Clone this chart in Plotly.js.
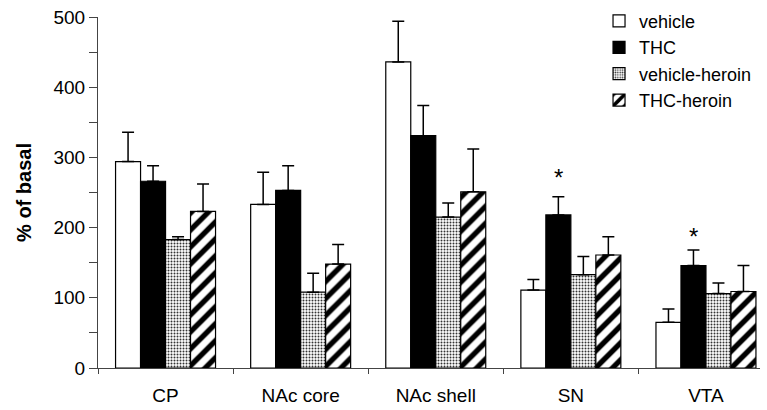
<!DOCTYPE html>
<html>
<head>
<meta charset="utf-8">
<script src="https://cdn.plot.ly/plotly-3.0.1.min.js"></script>
<style>
  html, body { margin: 0; padding: 0; background: #fff; overflow: hidden; }
  #chart { width: 767px; height: 410px; }
</style>
</head>
<body>
<div id="chart"></div>
<script>
// ---- data ----
const regions = ['CP', 'NAc core', 'NAc shell', 'SN', 'VTA'];
const seriesNames = ['vehicle', 'THC', 'vehicle-heroin', 'THC-heroin'];

const vehicle       = [294, 233, 436, 111, 65];
const vehicleErr    = [42, 46, 58, 15, 19];
const thc           = [266, 253, 331, 218, 146];
const thcErr        = [22, 35, 43, 26, 22];
const vehHeroin     = [183, 108, 215, 133, 106];
const vehHeroinErr  = [4, 27, 20, 26, 15];
const thcHeroin     = [223, 148, 251, 161, 109];
const thcHeroinErr  = [39, 28, 61, 26, 37];
const noErrDown     = [0, 0, 0, 0, 0];

// significance markers (above THC bars)
const sigRegions = ['SN', 'VTA'];
const sigY       = [279, 194];

const yTicks = [0, 100, 200, 300, 400, 500];

// ---- styling ----
const FONT = 'Liberation Sans, Arial, Helvetica, sans-serif';
const BARGAP = 0.26;
const nSeries = seriesNames.length;
const AXIS = '#444';

function errBar(arr) {
  return {type: 'data', symmetric: false, array: arr, arrayminus: noErrDown,
          color: '#000', thickness: 1.5, width: 6, visible: true};
}
const outline = {color: '#000', width: 1.2};

const traces = [
  {type: 'bar', name: seriesNames[0], x: regions, y: vehicle, error_y: errBar(vehicleErr),
   marker: {color: '#fff', line: outline}},
  {type: 'bar', name: seriesNames[1], x: regions, y: thc, error_y: errBar(thcErr),
   marker: {color: '#000', line: outline}},
  {type: 'bar', name: seriesNames[2], x: regions, y: vehHeroin, error_y: errBar(vehHeroinErr),
   marker: {color: '#fff', line: outline,
            pattern: {shape: '.', fgcolor: '#333', bgcolor: '#fff', size: 3, solidity: 0.35}}},
  {type: 'bar', name: seriesNames[3], x: regions, y: thcHeroin, error_y: errBar(thcHeroinErr),
   marker: {color: '#fff', line: outline,
            pattern: {shape: '/', fgcolor: '#000', bgcolor: '#fff', size: 12, solidity: 0.45}}}
];

// THC bar offset inside each group (2nd of 4 bars)
const barW = (1 - BARGAP) / nSeries;
const thcOffset = (1 - (nSeries - 1) / 2) * barW;
const annotations = sigRegions.map((r, i) => ({
  x: regions.indexOf(r) + thcOffset, y: sigY[i], xref: 'x', yref: 'y',
  text: '*', showarrow: false, font: {family: FONT, size: 24, color: '#000'},
  xanchor: 'center', yanchor: 'middle', yshift: -5
}));

const layout = {
  width: 767, height: 410,
  margin: {l: 98, r: 7, t: 17, b: 42, pad: 0, autoexpand: false},
  paper_bgcolor: '#fff', plot_bgcolor: '#fff',
  font: {family: FONT, size: 19, color: '#000'},
  barmode: 'group', bargap: BARGAP, bargroupgap: 0,
  showlegend: true,
  legend: {xref: 'container', yref: 'container', x: 0.781, xanchor: 'left', y: 0.9934, yanchor: 'top',
           font: {family: FONT, size: 18, color: '#000'},
           bgcolor: 'rgba(0,0,0,0)', borderwidth: 0, tracegroupgap: 0},
  xaxis: {type: 'category', range: [-0.5, 4.4], showline: true, linecolor: AXIS, linewidth: 1,
          ticks: 'outside', tickson: 'boundaries', ticklen: 5, tickcolor: AXIS,
          ticklabelstandoff: 10, automargin: false,
          showgrid: false, zeroline: false, fixedrange: true,
          tickfont: {family: FONT, size: 19, color: '#000'}},
  yaxis: {range: [0, 500], tickvals: yTicks, showline: true, linecolor: AXIS, linewidth: 1,
          ticks: 'outside', ticklen: 8, tickcolor: AXIS, automargin: false,
          minor: {dtick: 50, ticks: 'outside', ticklen: 8, tickcolor: AXIS, showgrid: false},
          showgrid: false, zeroline: false, fixedrange: true,
          tickfont: {family: FONT, size: 19, color: '#000'},
          title: {text: '<b>% of basal</b>', font: {family: FONT, size: 20, color: '#000'}, standoff: 16}},
  annotations: annotations
};

Plotly.newPlot('chart', traces, layout, {displayModeBar: false, staticPlot: true});
</script>
</body>
</html>
